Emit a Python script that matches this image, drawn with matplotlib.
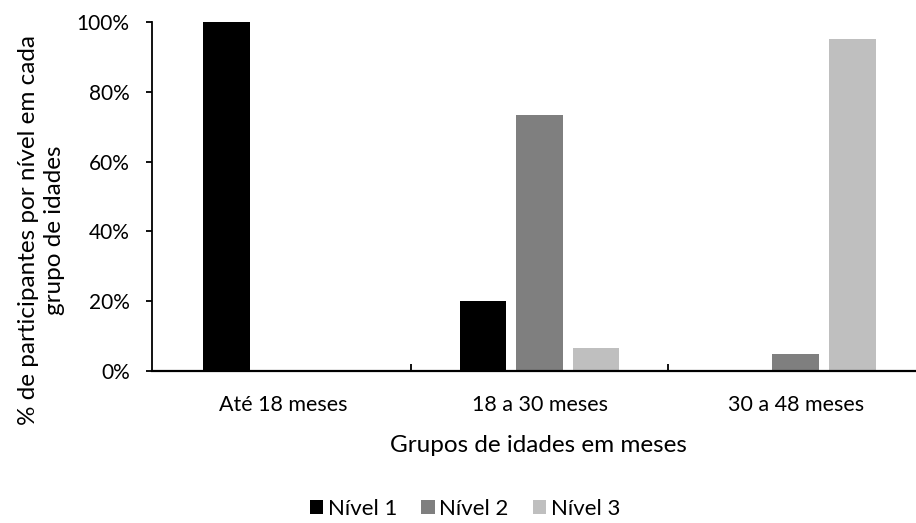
import numpy as np
import matplotlib
matplotlib.use('Agg')
import matplotlib.pyplot as plt
from matplotlib.ticker import FixedLocator, PercentFormatter

plt.rcParams['font.family'] = ['Lato', 'DejaVu Sans']

# data
groups = ['Até 18 meses', '18 a 30 meses', '30 a 48 meses']
levels = ['Nível 1', 'Nível 2', 'Nível 3']
nivel1 = [100, 20, 0]
nivel2 = [0, 73.3, 5]
nivel3 = [0, 6.7, 95]
colors = ['#000000', '#7f7f7f', '#bfbfbf']

fig = plt.figure(figsize=(9.16, 5.23), dpi=100)
ax = fig.add_axes([0.1659, 0.2906, 0.8428, 0.6673])

x = np.arange(len(groups))
width = 0.182
offset = 0.221
for i, (vals, lab) in enumerate(zip([nivel1, nivel2, nivel3], levels)):
    ax.bar(x + (i - 1) * offset, vals, width, color=colors[i], label=lab)

ax.set_xlim(-0.512, 2.5)
ax.set_ylim(0, 100)
ax.set_yticks(range(0, 101, 20))
ax.yaxis.set_major_formatter(PercentFormatter(decimals=0))
ax.set_xticks(x)
ax.set_xticklabels(groups)
ax.xaxis.set_minor_locator(FixedLocator([0.5, 1.5]))
ax.tick_params(axis='x', which='major', length=0, pad=17, labelsize=15.5)
ax.tick_params(axis='x', which='minor', length=5, width=1.3, direction='in')
ax.tick_params(axis='y', length=4, width=1.3, direction='out', pad=12, labelsize=15)

for s in ['top', 'right']:
    ax.spines[s].set_visible(False)
ax.spines['left'].set_linewidth(1.3)
ax.spines['bottom'].set_linewidth(1.6)

ax.set_xlabel('Grupos de idades em meses', fontsize=17.5, va='center')
ax.xaxis.set_label_coords(0.5, (371 - 445) / 349)

fig.text(41.5 / 916, 1 - 230 / 523, '% de participantes por nível em cada\ngrupo de idades',
         rotation=90, ha='center', va='center', fontsize=17.5, linespacing=1.3,
         multialignment='center')

fig.legend(loc='center', bbox_to_anchor=(465 / 916, 1 - 509 / 523), ncol=3, frameon=False,
           fontsize=16, handlelength=0.6, handleheight=0.6, handletextpad=0.2,
           columnspacing=1.1, borderpad=0, borderaxespad=0)

fig.savefig('out.png', dpi=100)
